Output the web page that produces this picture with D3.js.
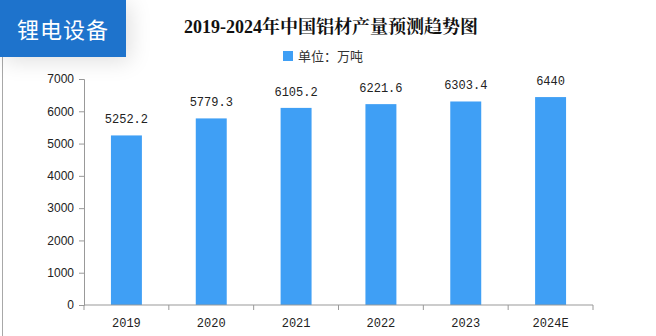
<!DOCTYPE html>
<html>
<head>
<meta charset="utf-8">
<script src="https://cdn.jsdelivr.net/npm/d3@7/dist/d3.min.js"></script>
<style>
  html, body { margin: 0; padding: 0; background: #fff; }
  #wrap { position: relative; width: 656px; height: 336px; overflow: hidden; }
  #badge {
    position: absolute; left: 0; top: 0; width: 126px; height: 57px;
    background: #1e73cc; color: #fff;
    font-family: "Noto Sans CJK SC", sans-serif; font-size: 22px;
    line-height: 57px; text-align: center; letter-spacing: 1px;
    box-shadow: 4px 4px 22px rgba(0,0,0,0.13);
    z-index: 2;
  }
  svg { position: absolute; left: 0; top: 0; }
</style>
</head>
<body>
<div id="wrap">
  <div id="badge">锂电设备</div>
  <svg id="chart" width="656" height="336"></svg>
</div>
<script>
const years = ["2019", "2020", "2021", "2022", "2023", "2024E"];
const output = [5252.2, 5779.3, 6105.2, 6221.6, 6303.4, 6440];
const yTicks = [0, 1000, 2000, 3000, 4000, 5000, 6000, 7000];
const title = "2019-2024年中国铝材产量预测趋势图";
const legendLabel = "单位：万吨";

const svg = d3.select("#chart");
const margin = { left: 84, right: 63, top: 79, bottom: 31 };
const W = 656, H = 336;

// left frame line
svg.append("line")
  .attr("x1", 2.5).attr("x2", 2.5).attr("y1", 57).attr("y2", H)
  .attr("stroke", "#a8a8a8").attr("stroke-width", 1);

const x = d3.scaleBand().domain(years)
  .range([margin.left, W - margin.right])
  .paddingInner(0.635).paddingOuter(0.3175);
const y = d3.scaleLinear().domain([0, 7000])
  .range([H - margin.bottom, margin.top]);

// title
svg.append("text")
  .attr("x", 331).attr("y", 33)
  .attr("text-anchor", "middle")
  .attr("font-family", "'Liberation Serif', 'Noto Serif CJK SC', 'Noto Sans CJK SC', serif")
  .attr("font-weight", "bold").attr("font-size", 18)
  .attr("fill", "#111")
  .text(title);

// legend
svg.append("rect")
  .attr("x", 283).attr("y", 51).attr("width", 10).attr("height", 10)
  .attr("fill", "#3f9ff5");
svg.append("text")
  .attr("x", 298).attr("y", 61)
  .attr("font-family", "'Noto Sans CJK SC', sans-serif")
  .attr("font-size", 13).attr("fill", "#333")
  .text(legendLabel);

// bars
svg.append("g").selectAll("rect")
  .data(years.map((d, i) => ({ year: d, v: output[i] })))
  .join("rect")
  .attr("x", d => x(d.year))
  .attr("width", x.bandwidth())
  .attr("y", d => y(d.v))
  .attr("height", d => y(0) - y(d.v))
  .attr("fill", "#3f9ff5");

// value labels
svg.append("g").selectAll("text")
  .data(years.map((d, i) => ({ year: d, v: output[i] })))
  .join("text")
  .attr("x", d => x(d.year) + x.bandwidth() / 2)
  .attr("y", d => y(d.v) - 12)
  .attr("text-anchor", "middle")
  .attr("font-family", "'Liberation Mono', 'DejaVu Sans Mono', monospace")
  .attr("font-size", 12).attr("fill", "#222")
  .text(d => String(d.v));

// y axis
const yAxis = svg.append("g")
  .attr("transform", `translate(${margin.left},0)`)
  .call(d3.axisLeft(y).tickValues(yTicks).tickSize(5).tickPadding(5).tickFormat(d3.format("d")));
yAxis.select(".domain").attr("stroke", "#999");
yAxis.selectAll(".tick line").attr("stroke", "#999");
yAxis.selectAll(".tick text")
  .attr("font-family", "'Liberation Sans', Arial, sans-serif")
  .attr("font-size", 12).attr("fill", "#222");

// x axis with ticks on category boundaries
const xAxis = svg.append("g")
  .attr("transform", `translate(0,${H - margin.bottom})`)
  .call(d3.axisBottom(x).tickSize(0).tickPadding(13));
xAxis.select(".domain").attr("stroke", "#999").attr("d", `M${margin.left},0H${W - margin.right}`);
xAxis.selectAll(".tick text")
  .attr("font-family", "'Liberation Mono', 'DejaVu Sans Mono', monospace")
  .attr("font-size", 12).attr("fill", "#222");
const bandSpan = (W - margin.right - margin.left) / years.length;
const bounds = d3.range(years.length + 1).map(i => margin.left + i * bandSpan);
xAxis.append("g").selectAll("line")
  .data(bounds)
  .join("line")
  .attr("x1", d => d).attr("x2", d => d)
  .attr("y1", 0).attr("y2", 5)
  .attr("stroke", "#999");
</script>
</body>
</html>
